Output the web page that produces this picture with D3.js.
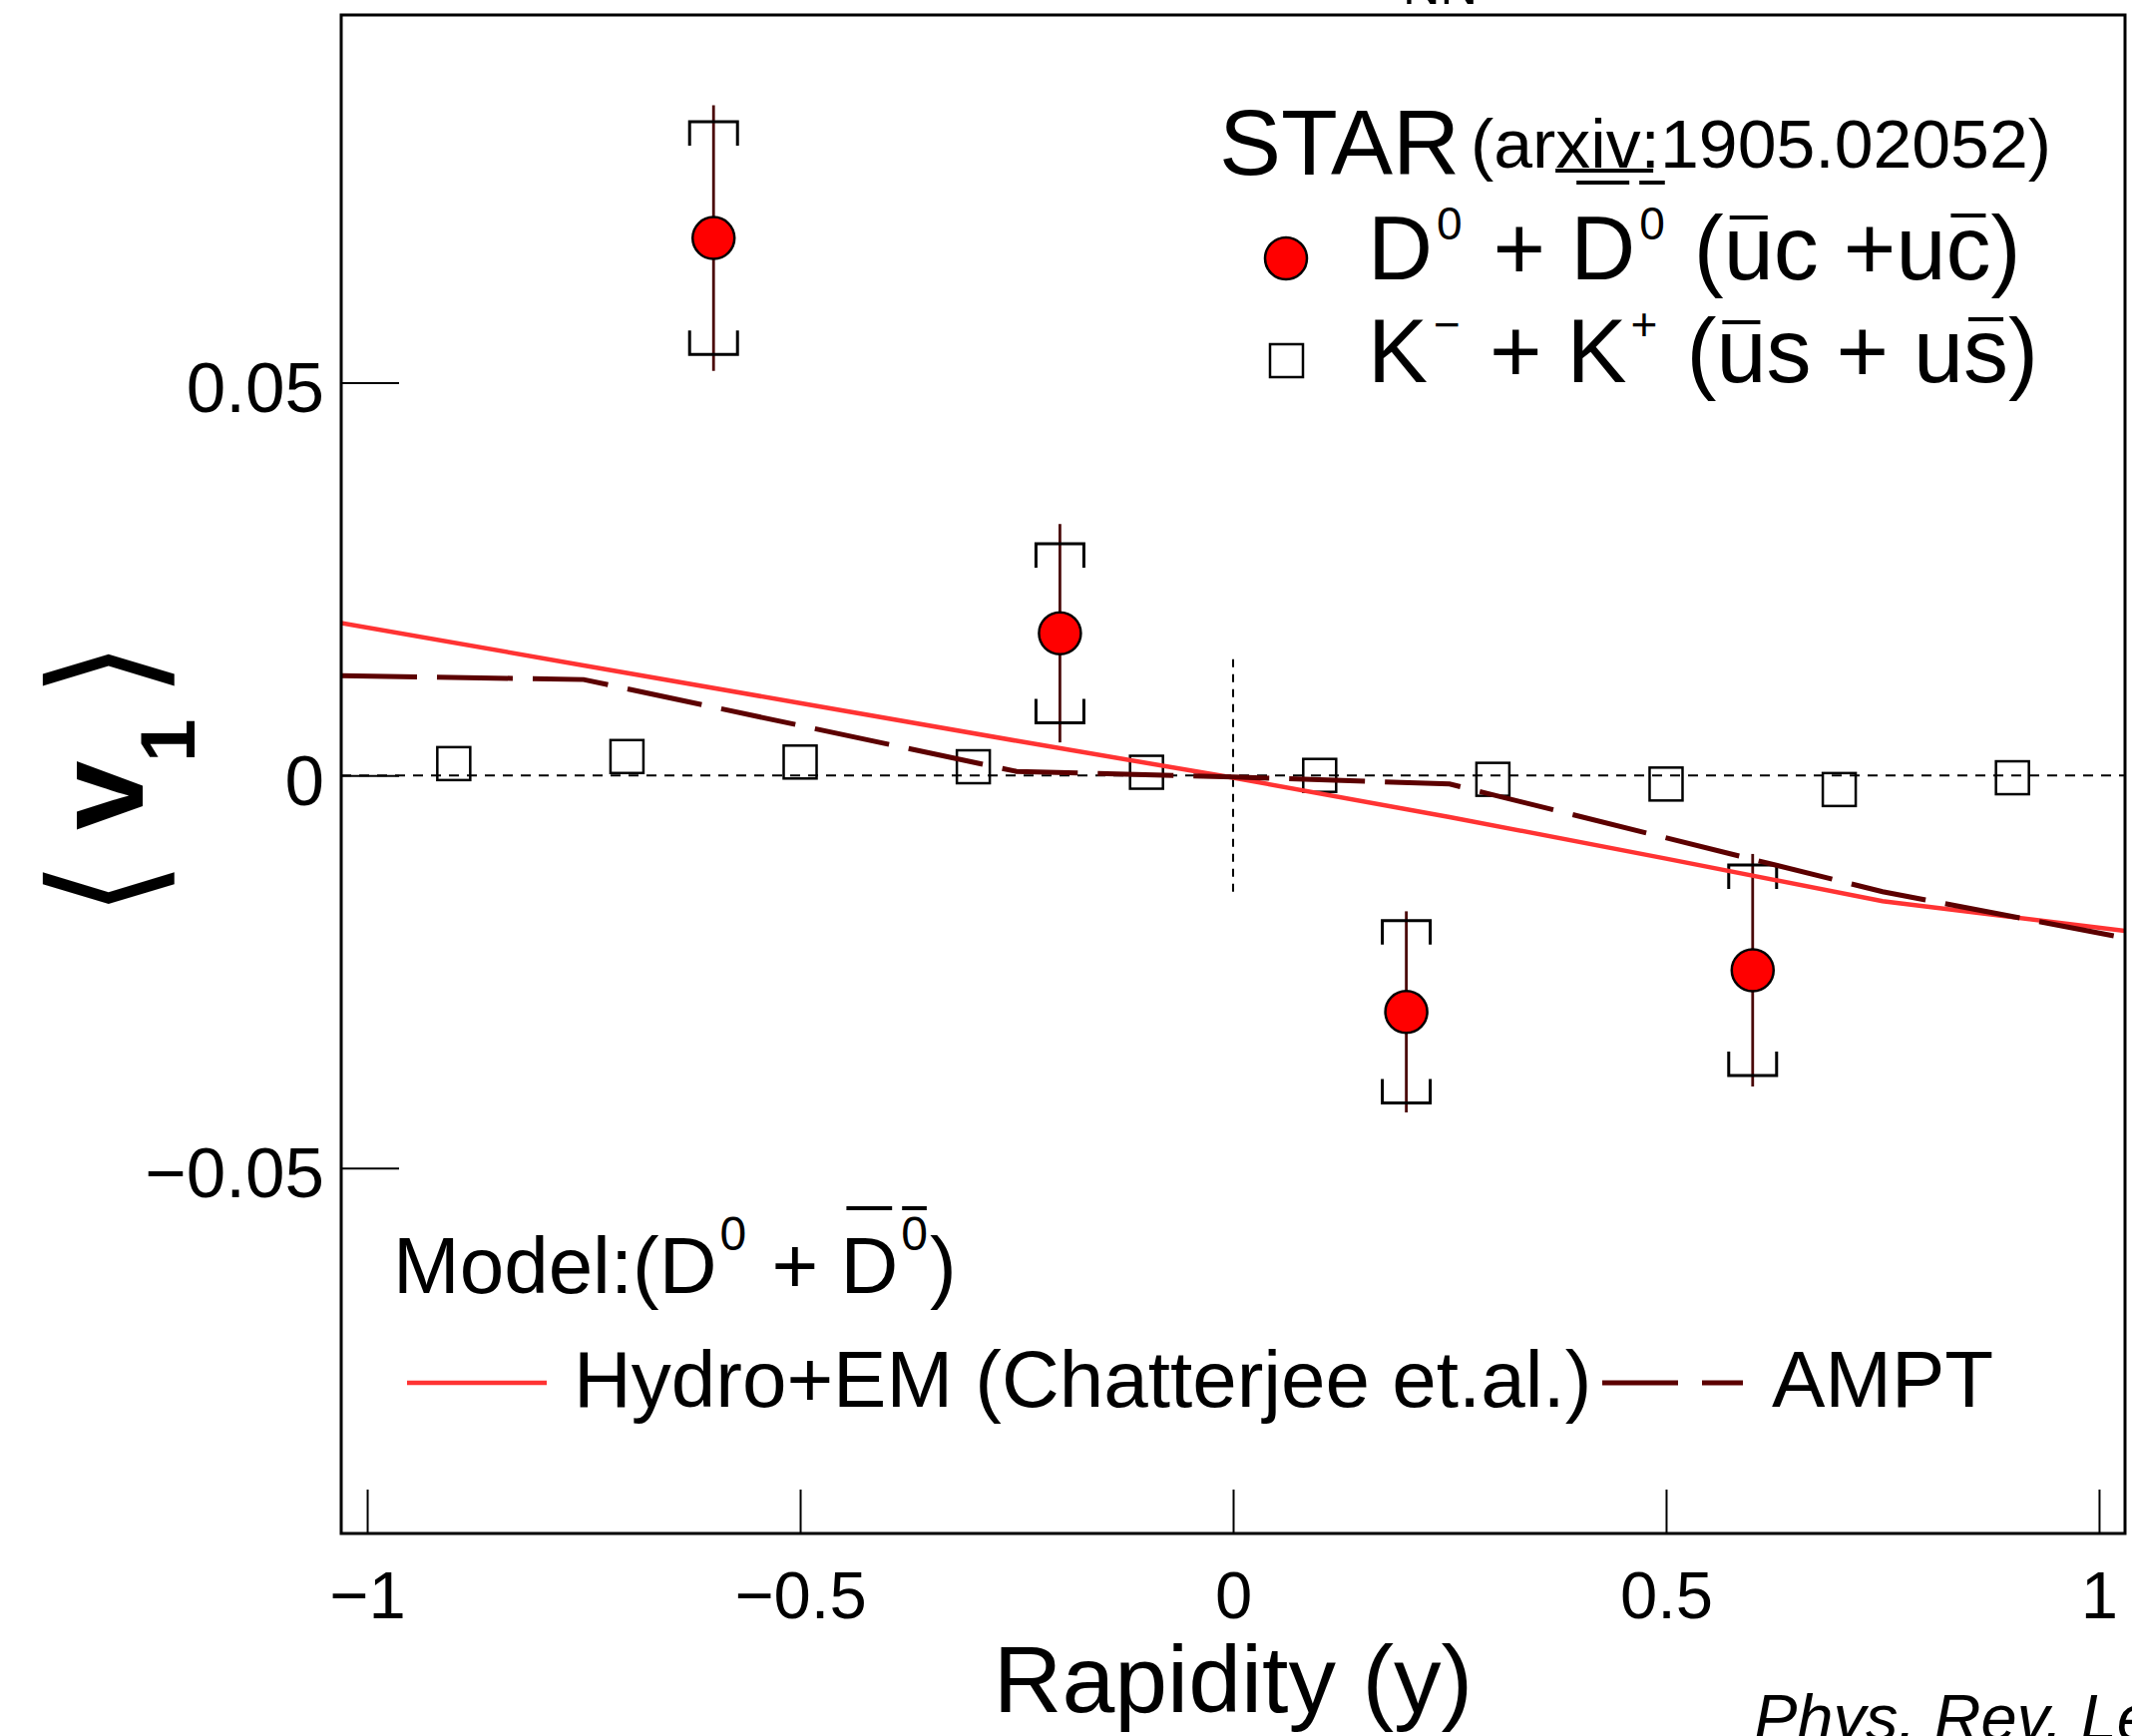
<!DOCTYPE html>
<html>
<head>
<meta charset="utf-8">
<script src="https://cdn.jsdelivr.net/npm/d3@7"></script>
<style>
  body { margin: 0; background: #fff; }
  text { font-family: "Liberation Sans", Arial, Helvetica, sans-serif; fill: #000; }
</style>
</head>
<body>
<div id="chart"></div>
<script>
// STAR D0 v1 vs rapidity, with kaons and two model curves

// D0 + D0bar points
var dRap = [-0.6, -0.2, 0.2, 0.6];
var dV1 = [0.0684, 0.0181, -0.0301, -0.0248];
var dStat = [0.0169, 0.0139, 0.0128, 0.0148];
var dSys = [0.0148, 0.0114, 0.0116, 0.0134];

// K- + K+ points
var kRap = [-0.9, -0.7, -0.5, -0.3, -0.1, 0.1, 0.3, 0.5, 0.7, 0.9];
var kV1 = [0.0015, 0.0024, 0.0017, 0.0011, 0.0004, 0.0000, -0.0005, -0.0011, -0.0018, -0.0003];

// models
var hydroRap = [-1.03, -0.75, -0.5, -0.25, 0, 0.25, 0.5, 0.75, 1.03];
var hydroV1 = [0.0194, 0.0140, 0.0092, 0.0044, -0.0003, -0.0053, -0.0106, -0.0160, -0.0198];
var amptRap = [-1.03, -0.75, -0.25, 0, 0.25, 0.75, 1.03];
var amptV1 = [0.0127, 0.0122, 0.0005, -0.0002, -0.0011, -0.0148, -0.0207];

// ticks
var xTicks = [-1, -0.5, 0, 0.5, 1];
var xTickLabels = ["\u22121", "\u22120.5", "0", "0.5", "1"];
var yTicks = [-0.05, 0, 0.05];
var yTickLabels = ["\u22120.05", "0", "0.05"];

// short dashed marker at y = 0
var zeroMarkRange = [-0.0157, 0.0148];

var svgWidth = 2137;
var svgHeight = 1740;
var margin = { top: 15, right: 7, bottom: 203, left: 342 };
var width = svgWidth - margin.left - margin.right;
var height = svgHeight - margin.top - margin.bottom;

var svg = d3.select("#chart")
  .append("svg")
  .attr("width", svgWidth)
  .attr("height", svgHeight);

svg.append("defs").append("clipPath")
  .attr("id", "plotClip")
  .append("rect")
  .attr("width", width)
  .attr("height", height);

var chartGroup = svg.append("g")
  .attr("transform", `translate(${margin.left}, ${margin.top})`);

var xScale = d3.scaleLinear().domain([-1.03, 1.03]).range([0, width]);
var yScale = d3.scaleLinear().domain([-0.0965, 0.0968]).range([height, 0]);

// axes, ticks pointing inward
var bottomAxis = d3.axisBottom(xScale)
  .tickValues(xTicks)
  .tickFormat((d, i) => xTickLabels[i])
  .tickSizeInner(-44).tickSizeOuter(0).tickPadding(37);
var leftAxis = d3.axisLeft(yScale)
  .tickValues(yTicks)
  .tickFormat((d, i) => yTickLabels[i])
  .tickSizeInner(-58).tickSizeOuter(0).tickPadding(17);

var xAxisG = chartGroup.append("g")
  .attr("transform", `translate(0, ${height})`)
  .call(bottomAxis);
var yAxisG = chartGroup.append("g").call(leftAxis);

[xAxisG, yAxisG].forEach(function(g) {
  g.select(".domain").remove();
  g.attr("font-family", null);
  g.selectAll(".tick line").attr("stroke", "#000").attr("stroke-width", 2);
});
xAxisG.selectAll(".tick text").style("font-size", "67px");
yAxisG.selectAll(".tick text").style("font-size", "71px").attr("dy", "0.41em");

// zero reference lines
chartGroup.append("line")
  .attr("x1", 0).attr("x2", width)
  .attr("y1", yScale(0)).attr("y2", yScale(0))
  .attr("stroke", "#000").attr("stroke-width", 2)
  .attr("stroke-dasharray", "10,8");

chartGroup.append("line")
  .attr("x1", xScale(0)).attr("x2", xScale(0))
  .attr("y1", yScale(zeroMarkRange[1])).attr("y2", yScale(zeroMarkRange[0]))
  .attr("stroke", "#000").attr("stroke-width", 2)
  .attr("stroke-dasharray", "8,7");

// kaons: open squares
chartGroup.selectAll(".kaon")
  .data(kRap)
  .enter()
  .append("rect")
  .attr("class", "kaon")
  .attr("x", d => xScale(d) - 16.5)
  .attr("y", (d, i) => yScale(kV1[i]) - 16.5)
  .attr("width", 33)
  .attr("height", 33)
  .attr("fill", "none")
  .attr("stroke", "#000")
  .attr("stroke-width", 2.5);

// D0: stat bars
chartGroup.selectAll(".stat")
  .data(dRap)
  .enter()
  .append("line")
  .attr("class", "stat")
  .attr("x1", d => xScale(d)).attr("x2", d => xScale(d))
  .attr("y1", (d, i) => yScale(dV1[i] + dStat[i]))
  .attr("y2", (d, i) => yScale(dV1[i] - dStat[i]))
  .attr("stroke", "#4a0808")
  .attr("stroke-width", 2.8);

// D0: systematic brackets
chartGroup.selectAll(".sys")
  .data(dRap)
  .enter()
  .append("path")
  .attr("class", "sys")
  .attr("d", function(d, i) {
    var x = xScale(d), t = yScale(dV1[i] + dSys[i]), b = yScale(dV1[i] - dSys[i]);
    return `M${x - 24},${t + 24}V${t}H${x + 24}V${t + 24}` +
           `M${x - 24},${b - 24}V${b}H${x + 24}V${b - 24}`;
  })
  .attr("fill", "none")
  .attr("stroke", "#000")
  .attr("stroke-width", 3);

chartGroup.selectAll(".dpt")
  .data(dRap)
  .enter()
  .append("circle")
  .attr("class", "dpt")
  .attr("cx", d => xScale(d))
  .attr("cy", (d, i) => yScale(dV1[i]))
  .attr("r", 21)
  .attr("fill", "#ff0000")
  .attr("stroke", "#000")
  .attr("stroke-width", 2.5);

// model curves
var line = d3.line().x(d => xScale(d[0])).y(d => yScale(d[1]));
var modelG = chartGroup.append("g").attr("clip-path", "url(#plotClip)");

modelG.append("path")
  .datum(d3.zip(hydroRap, hydroV1))
  .attr("d", line)
  .attr("fill", "none")
  .attr("stroke", "#ff3333")
  .attr("stroke-width", 4.5);

modelG.append("path")
  .datum(d3.zip(amptRap, amptV1))
  .attr("d", line)
  .attr("fill", "none")
  .attr("stroke", "#5c0000")
  .attr("stroke-width", 5)
  .attr("stroke-dasharray", "76,20");

// frame
chartGroup.append("rect")
  .attr("width", width)
  .attr("height", height)
  .attr("fill", "none")
  .attr("stroke", "#000")
  .attr("stroke-width", 3);

// text with super/subscripts and bars
function richText(x, y, size, parts) {
  var t = svg.append("text").attr("x", x).attr("y", y).style("font-size", size + "px");
  var raise = 0, idx = 0, marks = [];
  parts.forEach(function(p) {
    var r = p.raise || 0;
    var s = t.append("tspan").attr("dy", raise - r).text(p.t);
    if (p.dx) s.attr("dx", p.dx);
    if (p.size) s.style("font-size", p.size + "px");
    raise = r;
    if (p.bar != null || p.under) {
      marks.push({ start: idx, end: idx + p.t.length - 1, bar: p.bar, under: p.under, inset: p.inset == null ? 5 : p.inset });
    }
    idx += p.t.length;
  });
  var node = t.node();
  marks.forEach(function(m) {
    var a = node.getExtentOfChar(m.start), b = node.getExtentOfChar(m.end);
    var yy = m.under ? y + 3 : y - m.bar;
    svg.append("line")
      .attr("x1", a.x + m.inset).attr("x2", b.x + b.width - m.inset)
      .attr("y1", yy).attr("y2", yy)
      .attr("stroke", "#000").attr("stroke-width", 4);
  });
  return t;
}

// legend: data
svg.append("text").attr("x", 1222).attr("y", 175).style("font-size", "93px").text("STAR");
richText(1474, 168, 68, [
  { t: "(ar" }, { t: "xiv:", under: true, inset: 2 }, { t: "1905.02052)" }
]).attr("textLength", 582).attr("lengthAdjust", "spacingAndGlyphs");

svg.append("circle").attr("cx", 1289).attr("cy", 259).attr("r", 21)
  .attr("fill", "#ff0000").attr("stroke", "#000").attr("stroke-width", 2.5);
richText(1371, 280, 90, [
  { t: "D" }, { t: "0", size: 46, raise: 40, dx: 4 }, { t: " + ", dx: 6 },
  { t: "D", bar: 97, inset: 6 }, { t: "0", size: 46, raise: 40, dx: 4, bar: 97, inset: 0 },
  { t: " (", dx: 4 }, { t: "u", bar: 62, inset: 6 }, { t: "c +u" }, { t: "c", bar: 64, inset: 5 }, { t: ")" }
]);

svg.append("rect").attr("x", 1273).attr("y", 345).attr("width", 33).attr("height", 33)
  .attr("fill", "none").attr("stroke", "#000").attr("stroke-width", 2.5);
richText(1371, 383, 90, [
  { t: "K" }, { t: "\u2212", size: 46, raise: 42, dx: 6 }, { t: " + K", dx: 4 }, { t: "+", size: 46, raise: 42, dx: 4 },
  { t: " (", dx: 4 }, { t: "u", bar: 60, inset: 6 }, { t: "s + u" }, { t: "s", bar: 63, inset: 5 }, { t: ")" }
]);

// legend: models
richText(394, 1296, 80, [
  { t: "Model:(D" }, { t: "0", size: 48, raise: 43, dx: 3 }, { t: " + ", dx: 3 },
  { t: "D", bar: 85, inset: 6 }, { t: "0", size: 48, raise: 43, dx: 3, bar: 85, inset: 1 }, { t: ")", dx: 2 }
]);
svg.append("line").attr("x1", 408).attr("x2", 548).attr("y1", 1386).attr("y2", 1386)
  .attr("stroke", "#ff3333").attr("stroke-width", 4.5);
svg.append("text").attr("x", 575).attr("y", 1410).style("font-size", "80px").text("Hydro+EM (Chatterjee et.al.)");
svg.append("line").attr("x1", 1606).attr("x2", 1747).attr("y1", 1386).attr("y2", 1386)
  .attr("stroke", "#5c0000").attr("stroke-width", 5).attr("stroke-dasharray", "76,24");
svg.append("text").attr("x", 1776).attr("y", 1410).style("font-size", "80px").text("AMPT");

// axis titles
svg.append("text")
  .attr("x", margin.left + width / 2).attr("y", 1716)
  .attr("text-anchor", "middle")
  .style("font-size", "95px")
  .text("Rapidity (y)");

var yTitle = svg.append("g");
yTitle.append("text")
  .attr("transform", "translate(103, 891) rotate(-90) scale(1.1, 1.13)")
  .attr("text-anchor", "middle").attr("dominant-baseline", "central")
  .style("font-family", "DejaVu Sans").style("font-size", "131px")
  .text("\u27E8");
yTitle.append("text")
  .attr("transform", "translate(143, 832) rotate(-90)")
  .style("font-weight", "bold").style("font-size", "125px")
  .text("v");
yTitle.append("text")
  .attr("transform", "translate(195, 764) rotate(-90)")
  .style("font-weight", "bold").style("font-size", "78px")
  .text("1");
yTitle.append("text")
  .attr("transform", "translate(103, 671) rotate(-90) scale(1.1, 1.13)")
  .attr("text-anchor", "middle").attr("dominant-baseline", "central")
  .style("font-family", "DejaVu Sans").style("font-size", "131px")
  .text("\u27E9");

// clipped title fragment and reference note
svg.append("text").attr("x", 1406).attr("y", 4).style("font-size", "52px").text("NN");
svg.append("text").attr("x", 1758).attr("y", 1744)
  .style("font-size", "65px").style("font-style", "italic")
  .text("Phys. Rev. Lett.");
</script>
</body>
</html>
